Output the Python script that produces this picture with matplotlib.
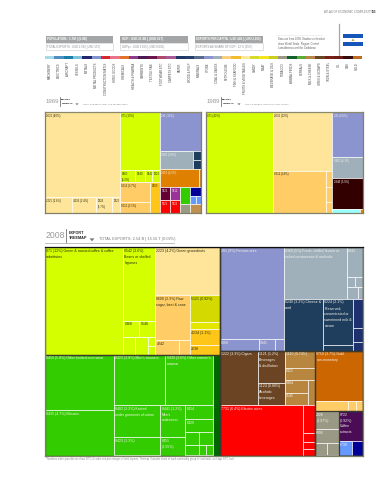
import matplotlib
matplotlib.use("Agg")
import matplotlib.pyplot as plt
from matplotlib.patches import Rectangle, Polygon

FONT = ["Liberation Sans Narrow", "Liberation Sans", "DejaVu Sans"]
plt.rcParams["font.family"] = FONT

# ---------- palette -------------------------------------------------
C = dict(L="#d4ff00", c="#ffe599", o="#ffcc66", a="#ffc61a", y="#d4d900", Y="#e2e600",
         g="#33cc00", G="#006600", b="#8c94cf", s="#9fb0bb", n="#1f3d5c", N="#1f3070",
         w="#6b4423", t="#b8863f", B="#cc6600", r="#ff0000", v="#999985", p="#4a0d55",
         l="#6699ff", d="#000099", m="#330000", e="#99ffff", x="#993399", X="#660033",
         O="#e08000", T="#c09050")
DARK_TEXT = set("LcoayY")

# ---------- header data ---------------------------------------------
BOX_TOP = ["POPULATION : 5.7M | (6.8B)", "GDP : USD 21.8B | (USD 61T)", "EXPORTS PER CAPITA : USD 440 | (USD 2,200)"]
BOX_BOTTOM = ["TOTAL EXPORTS : USD 2.5B | (USD 15T)", "GDPpc : USD 3,823 | (USD 9,000)", "EXPORTS AS SHARE OF GDP : 12 % (25%)"]
NOTE = ["Data are from 2008. Numbers in bracket", "show World Totals. Region: Central", "Latin America and the Caribbean"]
STRIP_LABELS = ["MACHINERY", "ELECTRICS", "AIRCRAFT", "VESSELS", "METALS", "METAL PRODUCTS",
                "CONSTRUCTION MATLS", "HOME GOODS", "CHEMICALS", "HEALTH & PHARMA", "GARMENTS",
                "TEXTILE FAB.", "FOOTWEAR ETC", "CARPETS ETC", "PAPER", "WOOD & PULP", "MINERALS",
                "STONE", "COAL & GASES", "PETROLEUM", "FISH & SEAFOOD", "FRUITS & VEGETABLES",
                "CANDY", "MEAT", "BEVERAGE & OILS", "TOBACCO", "ANIMAL FEEDS", "CEREALS",
                "MILK & CHEESE", "ORES & SCRAPS", "IRON & STEEL", "OIL", "GAS", "GOLD"]
STRIP_COLORS = ["#a6dbe6", "#4f8fc4", "#1a7fa8", "#7cc4d8", "#23256e", "#7f95cc", "#d8272d", "#e8738a",
                "#e2742a", "#8c3d8f", "#4a1a55", "#6b1550", "#b04a6a", "#a85a98", "#1f3766", "#24406a",
                "#5a6c8c", "#8c94cf", "#9fb0bb", "#f8cf7a", "#f2bc2e", "#fde8a0", "#d6d92e", "#f4e61e",
                "#c8cf1e", "#999985", "#14602c", "#5cab34", "#b8864a", "#6b4423", "#7a2018", "#6e1c14",
                "#330c0c", "#c06a22"]
STRIP_VALUES = [1] * 34

# ---------- 1969 ----------------------------------------------------
SHARES_A = [40.5, 2.74, 2.44, 1.62, .81,
            14.7, 1.14, .76, .53, .61, 3.8, 2.09, 1.97,
            10.1, 3.77, .46, .46, 4.46, .23,
            .83, .83, .83, .83, 1.08, .57, .63, .30, .25, .63]
COLORS_A = list("ccccc" "LLLLL" "oo" "a" "b" "s" "nn" "O" "t" "Xx" "rr" "gv" "d" "ll" "T")
COLORS_A = COLORS_A[:len(SHARES_A)]
LABELS_A = ["2631 (40%)", "2225 (2.6%)", "4235 (2.4%)", "2924\n(1.7%)", "2922",
            "071 (15%)", "0360\n(4.2%)", "0540", "0542", "2923", "0612 (3.7%)", "0611 (2.1%)", "0600",
            "281 (10%)", "0360 (3.8%)", "", "", "2815 (4.5%)", "",
            "5121", "5412", "5222", "5223", "", "", "", "", "", ""]
NEST_A = ("h", [("v", [0, ("h", [0, 0, 0, 0])]),
                ("v", [("v", [0, ("h", [0, 0, 0, 0])]), ("h", [("v", [0, 0]), 0])]),
                ("v", [0, ("h", [0, ("v", [0, 0])]), ("h", [0, 0]),
                       ("h", [("v", [("h", [0, 0]), ("h", [0, 0])]), ("v", [0, 0]),
                              ("v", [0, ("h", [0, 0]), 0])])])])

# ---------- 1989 ----------------------------------------------------
SHARES_B = [42.4, 21.95, 14.2, .66, .62, .45, 8.65, 4.13, 5.96, .62, .06]
COLORS_B = list("LcoooobsmeO")
LABELS_B = ["071 (42%)", "2631 (22%)", "0612 (14%)", "", "", "", "281 (8.6%)", "0360 (4.1%)", "2848 (5.9%)", "", ""]
NEST_B = ("h", [0, ("v", [0, ("h", [0, ("v", [0, 0, 0])])]), ("v", [0, 0, 0, ("h", [0, 0])])])

# ---------- 2008 ----------------------------------------------------
SHARES_C = [12.7, 3.57, .40, .40, .33, .32, .10, .10,
            4.70, 2.35, .53, .23, 1.23, .32, .73, .43,
            5.75, 4.76, 3.87, 3.60, 2.27, 1.26, 1.23, .68, .58, .54, .27, .28, .21, .11, .11, 1.07,
            8.93, .68, .28, .16,
            4.92, .73, .12, .12, .19, .09,
            3.08, 2.09, .27, .45, .20, .14,
            3.11, 1.31, .90, .77, .55, .45, .42, .27,
            6.36, .51, .16, .13, .12,
            3.64, .50, .12, .11,
            .64, .50, .23, .22, 1.11, .30, .24]
COLORS_C = list("LLLLLLLL" "cooo" "yYaa" "gggggggggggggggG" "bbbb" "ssssss" "nnnNNN"
                "wwwttttt" "rrrrr" "Booo" "vvvv" "pld")
LABELS_C = ["071 (12%) Green & roasted coffee & coffee\nsubstitutes", "0542 (3.6%)\nBeans or shelled\nlegumes",
            "0460", "0548", "", "", "", "",
            "2223 (4.2%) Green groundnuts", "0600 (2.3%) Raw\nsugar, beet & cane", "4242", "",
            "5121 (0.92%)", "", "4234 (1.1%)", "2238",
            "0459 (5.8%) Other knitted outerwear", "8435 (4.7%) Blouses", "8423 (3.8%) Men's trousers",
            "8439 (3.6%) Other women's\noutwear", "8482 (2.2%) Knitted\nunder garments of cotton", "8423 (1.3%)",
            "8441 (1.2%)\nMen's\nunderwear", "8451\n(0.55%)", "8414", "8429", "", "", "", "", "", "",
            "281 (9%) Ferrous ores", "0360", "0341", "", "0360 (5%) Fresh, chilled, frozen or\nsalted crustaceans & mollusks",
            "0343", "", "", "", "", "0240 (3.2%) Cheese &\ncurd", "0224 (2.1%)\nPreserved,\nconcentrated or\nsweetened milk &\ncream",
            "", "", "", "",
            "1222 (3.3%) Cigars", "1121 (1.2%)\nBeverages\n& distillation", "1124 (0.88%)\nAlcoholic\nbeverages",
            "1110 (0.74%)", "0421", "0484", "0545", "",
            "7731 (6.4%) Electric wires", "", "", "", "",
            "9710 (3.7%) Gold,\nnon-monetary", "", "", "",
            "2926\n(0.97%)", "8999", "", "", "8722\n(0.92%)\nCoffee\nextracts", "6730", ""]
NEST_C = ("h", [
    ("v", [("H", [("h", [0, ("v", [0, ("h", [0, 0]), ("h", [0, 0, ("v", [0, 0])])])]),
                  ("v", [0, ("h", [("v", [0, ("h", [0, 0])]), ("v", [0, 0, 0, 0])])])]),
           ("H", [("h", [("v", [0, 0]),
                         ("v", [("h", [0, 0]),
                                ("h", [("v", [0, 0]), ("v", [0, 0]),
                                       ("v", [0, 0, ("h", [0, 0]), ("h", [0, 0, 0])])])])]), 0])]),
    ("V", [("H", [("v", [0, ("h", [0, 0, 0])]),
                  ("v", [("h", [0, ("v", [0, ("h", [0, 0]), ("h", [0, 0])])]),
                         ("h", [0, ("v", [0, 0]), ("v", [0, 0, 0])])])]),
           ("H", [("V", [("h", [0, ("v", [0, 0]), ("v", [0, 0, ("h", [("v", [0, 0]), 0])])]),
                         ("h", [0, ("v", [0, 0, 0, 0])])]),
                  ("V", [("v", [0, ("h", [0, 0, 0])]),
                         ("H", [("v", [0, 0, ("h", [0, 0])]), ("V", [0, ("h", [0, 0])])])])])])])

# ---------- canvas --------------------------------------------------
W, H = 387, 480
fig = plt.figure(figsize=(W / 100, H / 100), dpi=100, facecolor="white")
bg = fig.add_axes([0, 0, 1, 1])
bg.set_xlim(0, W); bg.set_ylim(H, 0); bg.axis("off")


def box_axes(x0, x1, y0, y1):
    a = fig.add_axes([x0 / W, 1 - y1 / H, (x1 - x0) / W, (y1 - y0) / H])
    a.set_xlim(0, 1); a.set_ylim(1, 0)
    a.set_xticks([]); a.set_yticks([])
    return a


def count(node):
    if node == 0:
        return 1
    return sum(count(c) for c in node[1])


def draw_tree(a, node, shares, colors, labels, fs, state, rect, groups):
    x, y, w, h = rect
    if node == 0:
        i = state["i"]; state["i"] += 1
        key = colors[i]
        a.add_patch(Rectangle((x, y), w, h, facecolor=C[key], edgecolor="#ffffff", lw=0.45))
        if labels[i]:
            col = "#2a2a10" if key in DARK_TEXT else "#f4f4ec"
            a.annotate(labels[i], (x, y), xytext=(1.0, -1.2), textcoords="offset points",
                       ha="left", va="top", fontsize=fs, color=col, linespacing=1.65,
                       annotation_clip=False)
        return
    kind, kids = node
    sizes = []
    cur = state["i"]
    for k in kids:
        n = count(k)
        sizes.append(sum(shares[cur:cur + n]))
        cur += n
    tot = sum(sizes)
    pos = 0.0
    for k, s in zip(kids, sizes):
        f = s / tot
        if kind in "hH":
            r = (x + pos * w, y, w * f, h)
        else:
            r = (x, y + pos * h, w, h * f)
        pos += f
        draw_tree(a, k, shares, colors, labels, fs, state, r, groups)
    if kind in "HV":
        groups.append(rect)


def treemap(x0, x1, y0, y1, nest, shares, colors, labels, fs, top="#8a8a6a", inner="#3a3a30"):
    a = box_axes(x0, x1, y0, y1)
    groups = []
    draw_tree(a, nest, shares, colors, labels, fs, {"i": 0}, (0, 0, 1, 1), groups)
    for (x, y, w, h) in groups:
        a.add_patch(Rectangle((x, y), w, h, fill=False, edgecolor=inner, lw=0.9))
    for s in a.spines.values():
        s.set_color("#808068"); s.set_linewidth(0.9)
    a.spines["top"].set_color(top)
    a.set_zorder(3)
    return a


treemap(45, 201, 112, 213, NEST_A, SHARES_A, COLORS_A, LABELS_A, 2.0)
treemap(206, 363, 112, 213, NEST_B, SHARES_B, COLORS_B, LABELS_B, 2.0)
treemap(45, 363, 247, 455.5, NEST_C, SHARES_C, COLORS_C, LABELS_C, 2.55, top="#101010")

# ---------- colour strip --------------------------------------------
st = fig.add_axes([45 / W, 1 - 59 / H, 317 / W, 3 / H])
st.bar(range(34), STRIP_VALUES, width=1.0, color=STRIP_COLORS, linewidth=0)
st.set_xlim(-0.5, 33.5); st.set_ylim(0, 1)
st.set_yticks([])
st.set_xticks(range(34))
st.set_xticklabels(STRIP_LABELS, rotation=90, fontsize=2.0, color="#444444")
st.tick_params(axis="x", length=0, pad=2.4)
for s in st.spines.values():
    s.set_visible(False)

# ---------- stat boxes ----------------------------------------------
for x0, top_txt, bot_txt, tfs in zip([45.5, 120.3, 195.2], BOX_TOP, BOX_BOTTOM, [2.2, 2.2, 2.05]):
    bg.add_patch(Rectangle((x0, 35.7), 67.8, 7.3, facecolor="#a3a5a6", edgecolor="none"))
    bg.add_patch(Rectangle((x0, 43), 67.8, 7, facecolor="white", edgecolor="#d4d4d4", lw=0.5))
    bg.text(x0 + 1.2, 39.4, top_txt, fontsize=tfs, color="white", va="center", ha="left", fontweight="bold")
    bg.text(x0 + 1.2, 46.6, bot_txt, fontsize=2.0, color="#8a8a8a", va="center", ha="left")

bg.plot([276, 322], [35.3, 35.3], color="#bbbbbb", lw=0.4, ls=":")
for i, line in enumerate(NOTE):
    bg.text(278, 39.3 + i * 4.4, line, fontsize=1.9, color="#666666", va="center", ha="left")
bg.plot([338.5, 338.5], [24, 56], color="#a8a8a8", lw=0.9)

# flag
bg.add_patch(Rectangle((343, 34), 20, 12, facecolor="#1556b8", edgecolor="none"))
bg.add_patch(Rectangle((343, 38), 20, 4, facecolor="white", edgecolor="none"))
bg.add_patch(Polygon([(353, 38.4), (354.5, 41), (351.5, 41)], facecolor="#b9a83a", edgecolor="none"))

# page header
bg.text(371.5, 12, "ATLAS OF ECONOMIC COMPLEXITY", fontsize=1.95, color="#777777", ha="right", va="center")
bg.text(376.5, 12, "155", fontsize=2.0, color="#333333", ha="right", va="center", fontweight="bold")


def header(year, x, y, size, sub, sub_fs, dx_line, dx_tm, dx_tri, dx_sub, small, half):
    bg.text(x, y, year, fontsize=size, color="#999999", ha="left", va="center")
    bg.plot([x + dx_line] * 2, [y - half, y + half], color="#555555", lw=0.5)
    bg.text(x + dx_tm, y - half * 0.42, "EXPORT", fontsize=small, color="#222222", fontweight="bold", va="center")
    bg.text(x + dx_tm, y + half * 0.42, "TREEMAP", fontsize=small, color="#222222", fontweight="bold", va="center")
    tx = x + dx_tri
    ty = y + half * 0.62
    u = half * 0.35
    bg.add_patch(Polygon([(tx - u, ty - u * .6), (tx + u, ty - u * .6), (tx, ty + u * .6)],
                         facecolor="#777777", edgecolor="none"))
    bg.text(x + dx_sub, y + half * 0.55, sub, fontsize=sub_fs, color="#777777", va="center", ha="left")


header("1969", 46, 101.5, 4.4, "TOTAL EXPORTS (1969): USD 202.9M (0.06%)", 1.55, 13.5, 15, 31, 37, 1.7, 4.5)
header("1989", 207, 101.5, 4.4, "TOTAL EXPORTS: USD 556M / 2.97T (0.02%)", 1.55, 13.5, 15, 32, 38, 1.7, 4.5)
header("2008", 46, 235.5, 6.2, "TOTAL EXPORTS: 2.54 B | 15.56 T (0.02%)", 2.75, 20, 23, 46, 53, 2.7, 7)
bg.plot([45, 174], [243.3, 243.3], color="#b5b5b5", lw=0.6)

bg.text(46, 459, "*Numbers within parentheses show SITC-4 codes and percentages of total exports. Treemap illustrates share of each commodity group in total trade, at 4-digit SITC level.",
        fontsize=1.8, color="#8a8a8a", ha="left", va="center")

fig.savefig("out.png", dpi=100, facecolor="white")
